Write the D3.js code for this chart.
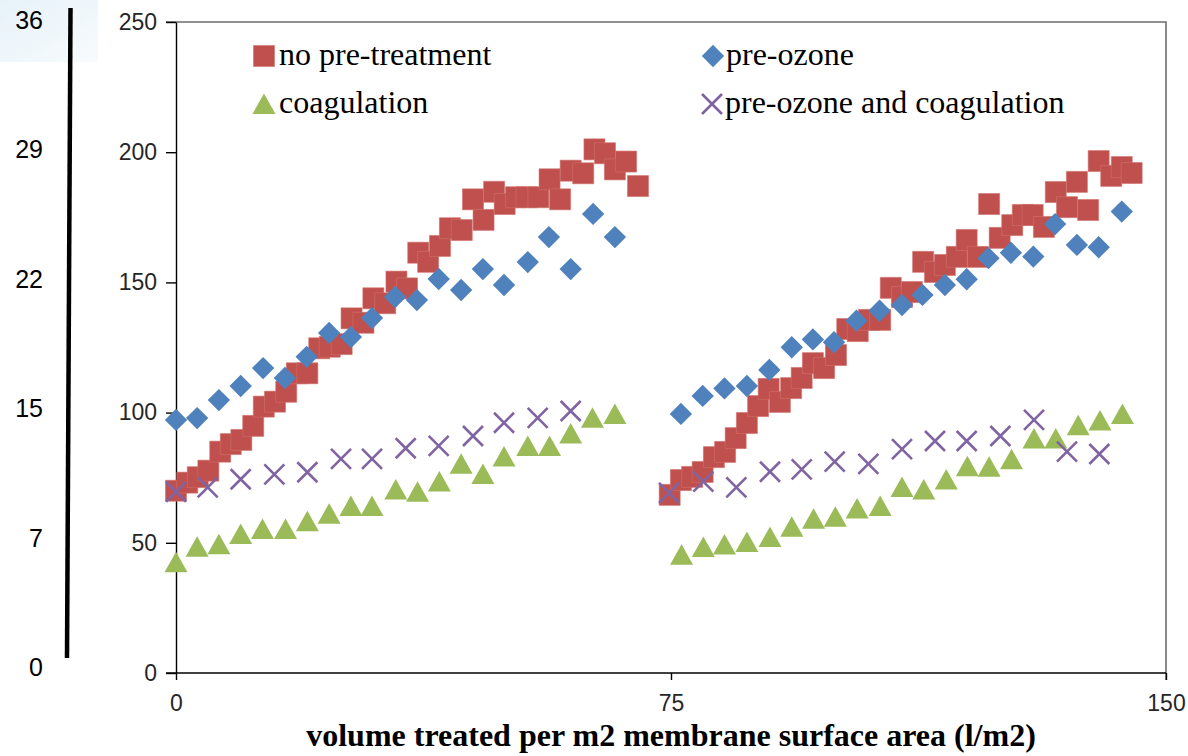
<!DOCTYPE html>
<html>
<head>
<meta charset="utf-8">
<script src="https://d3js.org/d3.v7.min.js"></script>
<style>
body{margin:0;background:#fff}
</style>
</head>
<body>
<div id="chart"></div>
<script>
var width = 1188
var height = 756

// x tick values and y tick values of the main axes
var xTicks = [0, 75, 150]
var yTicks = [0, 50, 100, 150, 200, 250]
// the extra scale drawn at the far left
var leftLabels = ["36", "29", "22", "15", "7", "0"]

var seriesNames = ["no pre-treatment", "pre-ozone", "coagulation", "pre-ozone and coagulation"]

// no pre-treatment (two runs)
var redX = [0, 1.7, 3.3, 4.9, 6.7, 8.3, 9.9, 11.7, 13.3, 15.0, 16.7, 18.3, 19.9, 21.7, 23.3, 25.1, 26.6, 28.4, 29.9, 31.7, 33.4, 35.0, 36.7, 38.2, 40.0, 41.5, 43.3, 45.0, 46.6, 48.2, 49.8, 51.5, 53.1, 54.9, 56.6, 58.2, 59.8, 61.7, 63.4, 65.0, 66.5, 68.2, 70.0,
	74.8, 76.5, 78.2, 79.8, 81.5, 83.2, 84.8, 86.5, 88.2, 89.8, 91.5, 93.2, 94.8, 96.5, 98.2, 100.0, 101.7, 103.3, 105.0, 106.7, 108.3, 110.0, 111.5, 113.2, 115.0, 116.5, 118.3, 119.8, 121.5, 123.2, 124.8, 126.7, 128.3, 129.8, 131.5, 133.3, 135.0, 136.5, 138.2, 139.8, 141.7, 143.3, 144.8]
var redY = [70.0, 73.1, 75.2, 77.7, 85.0, 87.9, 89.5, 94.9, 102.3, 104.2, 108.0, 115.1, 115.1, 124.7, 125.3, 126.3, 136.2, 134.5, 143.9, 142.0, 150.3, 147.7, 161.4, 157.9, 164.0, 170.8, 170.1, 181.9, 174.0, 184.8, 180.1, 182.7, 182.7, 182.7, 189.6, 181.9, 192.9, 191.9, 201.1, 199.6, 193.4, 196.4, 187.0,
	68.4, 74.1, 75.3, 77.2, 82.9, 84.9, 90.2, 96.0, 102.5, 109.1, 104.1, 109.4, 113.3, 119.0, 117.1, 122.1, 132.1, 131.3, 135.6, 135.6, 147.9, 144.4, 146.3, 157.9, 154.0, 156.7, 159.8, 166.3, 159.8, 180.1, 167.1, 172.0, 175.9, 175.9, 171.3, 184.7, 178.9, 188.6, 177.8, 196.6, 190.9, 194.3, 192.0]

// pre-ozone
var blueX = [0, 3.2, 6.5, 9.8, 13.2, 16.5, 19.8, 23.2, 26.5, 29.7, 33.2, 36.5, 39.8, 43.2, 46.5, 49.7, 53.3, 56.5, 59.8, 63.2, 66.5,
	76.5, 79.8, 83.1, 86.5, 89.9, 93.3, 96.5, 99.7, 103.1, 106.6, 110.0, 113.1, 116.5, 119.8, 123.1, 126.5, 129.9, 133.2, 136.5, 139.8, 143.3]
var blueY = [97.2, 97.9, 104.8, 110.2, 117.1, 113.3, 121.4, 130.6, 129.0, 136.3, 144.4, 143.2, 151.3, 147.1, 155.1, 149.0, 157.8, 167.4, 155.1, 176.3, 167.4,
	99.5, 106.4, 109.3, 110.2, 116.4, 125.1, 128.1, 127.0, 135.3, 139.1, 141.3, 145.2, 149.0, 151.2, 159.3, 161.4, 159.9, 172.4, 164.4, 163.5, 177.2]

// coagulation
var greenX = [0, 3.2, 6.5, 9.8, 13.1, 16.6, 19.9, 23.2, 26.5, 29.7, 33.3, 36.6, 39.9, 43.2, 46.5, 49.7, 53.3, 56.6, 59.8, 63.1, 66.5,
	76.6, 79.9, 83.1, 86.5, 90.0, 93.3, 96.6, 99.9, 103.2, 106.7, 110.0, 113.3, 116.7, 119.9, 123.2, 126.6, 130.0, 133.3, 136.7, 140.0, 143.4]
var greenY = [42.5, 48.5, 49.4, 53.4, 55.3, 55.3, 58.3, 61.2, 64.1, 64.1, 70.5, 69.6, 73.5, 80.4, 76.4, 83.1, 87.2, 87.2, 92.0, 98.0, 99.5,
	45.4, 48.4, 49.3, 50.3, 52.2, 56.2, 59.2, 60.0, 63.2, 64.1, 71.4, 70.5, 74.3, 79.4, 79.2, 82.1, 90.1, 90.1, 95.1, 97.0, 99.5]

// pre-ozone and coagulation
var purpleX = [0, 4.8, 9.8, 14.9, 19.9, 25.0, 29.7, 34.8, 39.8, 45.0, 49.7, 54.8, 59.8,
	74.7, 79.9, 84.9, 90.0, 94.8, 99.8, 104.9, 110.0, 115.0, 119.8, 124.9, 130.0, 135.0, 139.9]
var purpleY = [69.6, 71.3, 74.4, 76.3, 77.1, 82.2, 82.2, 86.3, 87.2, 91.0, 96.1, 98.0, 100.6,
	69.2, 73.5, 71.3, 77.3, 78.2, 81.2, 80.3, 86.0, 89.1, 89.1, 91.0, 97.2, 85.0, 84.1]

var colors = ["#C0504D", "#4F81BD", "#9BBB59", "#8064A2"]

var margin = {left: 176, right: 22, top: 22, bottom: 83}

var svg = d3.select("#chart").append("svg")
	.attr("width", width)
	.attr("height", height)
	.style("font-family", "'Liberation Sans', Arial, sans-serif")

// faint blue tint top left corner
var grad = svg.append("defs").append("linearGradient")
	.attr("id", "tint").attr("x1", "0%").attr("y1", "0%").attr("x2", "100%").attr("y2", "100%")
grad.append("stop").attr("offset", "0%").attr("stop-color", "#e6f2f9")
grad.append("stop").attr("offset", "100%").attr("stop-color", "#f8fbfd")
svg.append("rect").attr("x", 0).attr("y", 0).attr("width", 98).attr("height", 62).attr("fill", "url(#tint)")

var x = d3.scaleLinear().domain([0, 150]).range([margin.left, width - margin.right])
var y = d3.scaleLinear().domain([0, 250]).range([height - margin.bottom, margin.top])

// plot frame (top + right)
svg.append("path")
	.attr("d", "M" + (margin.left - 10) + "," + y(250) + "H" + x(150) + "V" + (y(0) + 7))
	.attr("fill", "none").attr("stroke", "#6d6d6d").attr("stroke-width", 1.6)

var yAxis = svg.append("g")
	.attr("transform", "translate(" + margin.left + ",0)")
	.call(d3.axisLeft(y).tickValues(yTicks).tickSize(10).tickSizeOuter(0).tickPadding(9))
yAxis.selectAll("text").style("font-size", "23px").attr("fill", "#262626")
yAxis.selectAll("line,path").attr("stroke", "#000").attr("stroke-width", 1.4)

var xAxis = svg.append("g")
	.attr("transform", "translate(0," + y(0) + ")")
	.call(d3.axisBottom(x).tickValues(xTicks).tickSize(7).tickSizeOuter(0).tickPadding(15))
xAxis.selectAll("text").style("font-size", "23px").attr("fill", "#262626")
xAxis.selectAll("line,path").attr("stroke", "#000").attr("stroke-width", 1.4)
xAxis.select(".domain").attr("d", "M" + (margin.left - 10) + ",0H" + x(150))

svg.append("text")
	.attr("x", 671).attr("y", 746)
	.attr("text-anchor", "middle")
	.style("font-family", "'Liberation Serif', 'Times New Roman', serif")
	.style("font-weight", "bold")
	.style("font-size", "32px")
	.text("volume treated per m2 membrane surface area (l/m2)")

// extra scale on the far left
var leftScale = d3.scalePoint().domain(leftLabels).range([20, 667])
svg.append("line")
	.attr("x1", 70.5).attr("y1", 8).attr("x2", 67).attr("y2", 658)
	.attr("stroke", "#000").attr("stroke-width", 4.5)
svg.selectAll(".leftLab")
	.data(leftLabels)
	.enter().append("text")
	.attr("class", "leftLab")
	.attr("x", 43)
	.attr("y", function(d){ return leftScale(d) })
	.attr("dy", "0.36em")
	.attr("text-anchor", "end")
	.style("font-size", "25px")
	.text(function(d){ return d })

// marker shapes
var squarePath = d3.symbol(d3.symbolSquare, 441)()
var diamondPath = d3.symbol(d3.symbolSquare, 250)()
var trianglePath = "M0,-10.5L11.5,10L-11.5,10Z"
var crossPath = "M-10,-10L10,10M-10,10L10,-10"

function drawMarker(g, type, color){
	if(type == 0){
		g.append("path").attr("d", squarePath).attr("fill", color).attr("stroke", "#d0706c").attr("stroke-width", 0.6)
	}else if(type == 1){
		g.append("path").attr("d", diamondPath).attr("transform", "rotate(45)").attr("fill", color)
	}else if(type == 2){
		g.append("path").attr("d", trianglePath).attr("fill", color)
	}else{
		g.append("path").attr("d", crossPath).attr("fill", "none").attr("stroke", color).attr("stroke-width", 2.6)
	}
}

function toPoints(xs, ys){
	var pts = []
	for(var i = 0; i < xs.length; i++){
		pts.push([xs[i], ys[i]])
	}
	return pts
}

var series = [toPoints(redX, redY), toPoints(blueX, blueY), toPoints(greenX, greenY), toPoints(purpleX, purpleY)]

series.forEach(function(pts, s){
	svg.append("g").attr("class", "series" + s)
		.selectAll("g")
		.data(pts)
		.enter().append("g")
		.attr("transform", function(d){ return "translate(" + x(d[0]) + "," + y(d[1]) + ")" })
		.each(function(){ drawMarker(d3.select(this), s, colors[s]) })
})

// legend, two columns
var legendPos = [[264, 56], [713, 56], [264, 104], [712, 104]]
seriesNames.forEach(function(name, i){
	var g = svg.append("g").attr("transform", "translate(" + legendPos[i][0] + "," + legendPos[i][1] + ")")
	drawMarker(g, i, colors[i])
	g.append("text")
		.attr("x", i % 2 == 0 ? 15 : 13)
		.attr("y", 9)
		.style("font-family", "'Liberation Serif', 'Times New Roman', serif")
		.style("font-size", "32px")
		.text(name)
})
</script>
</body>
</html>
